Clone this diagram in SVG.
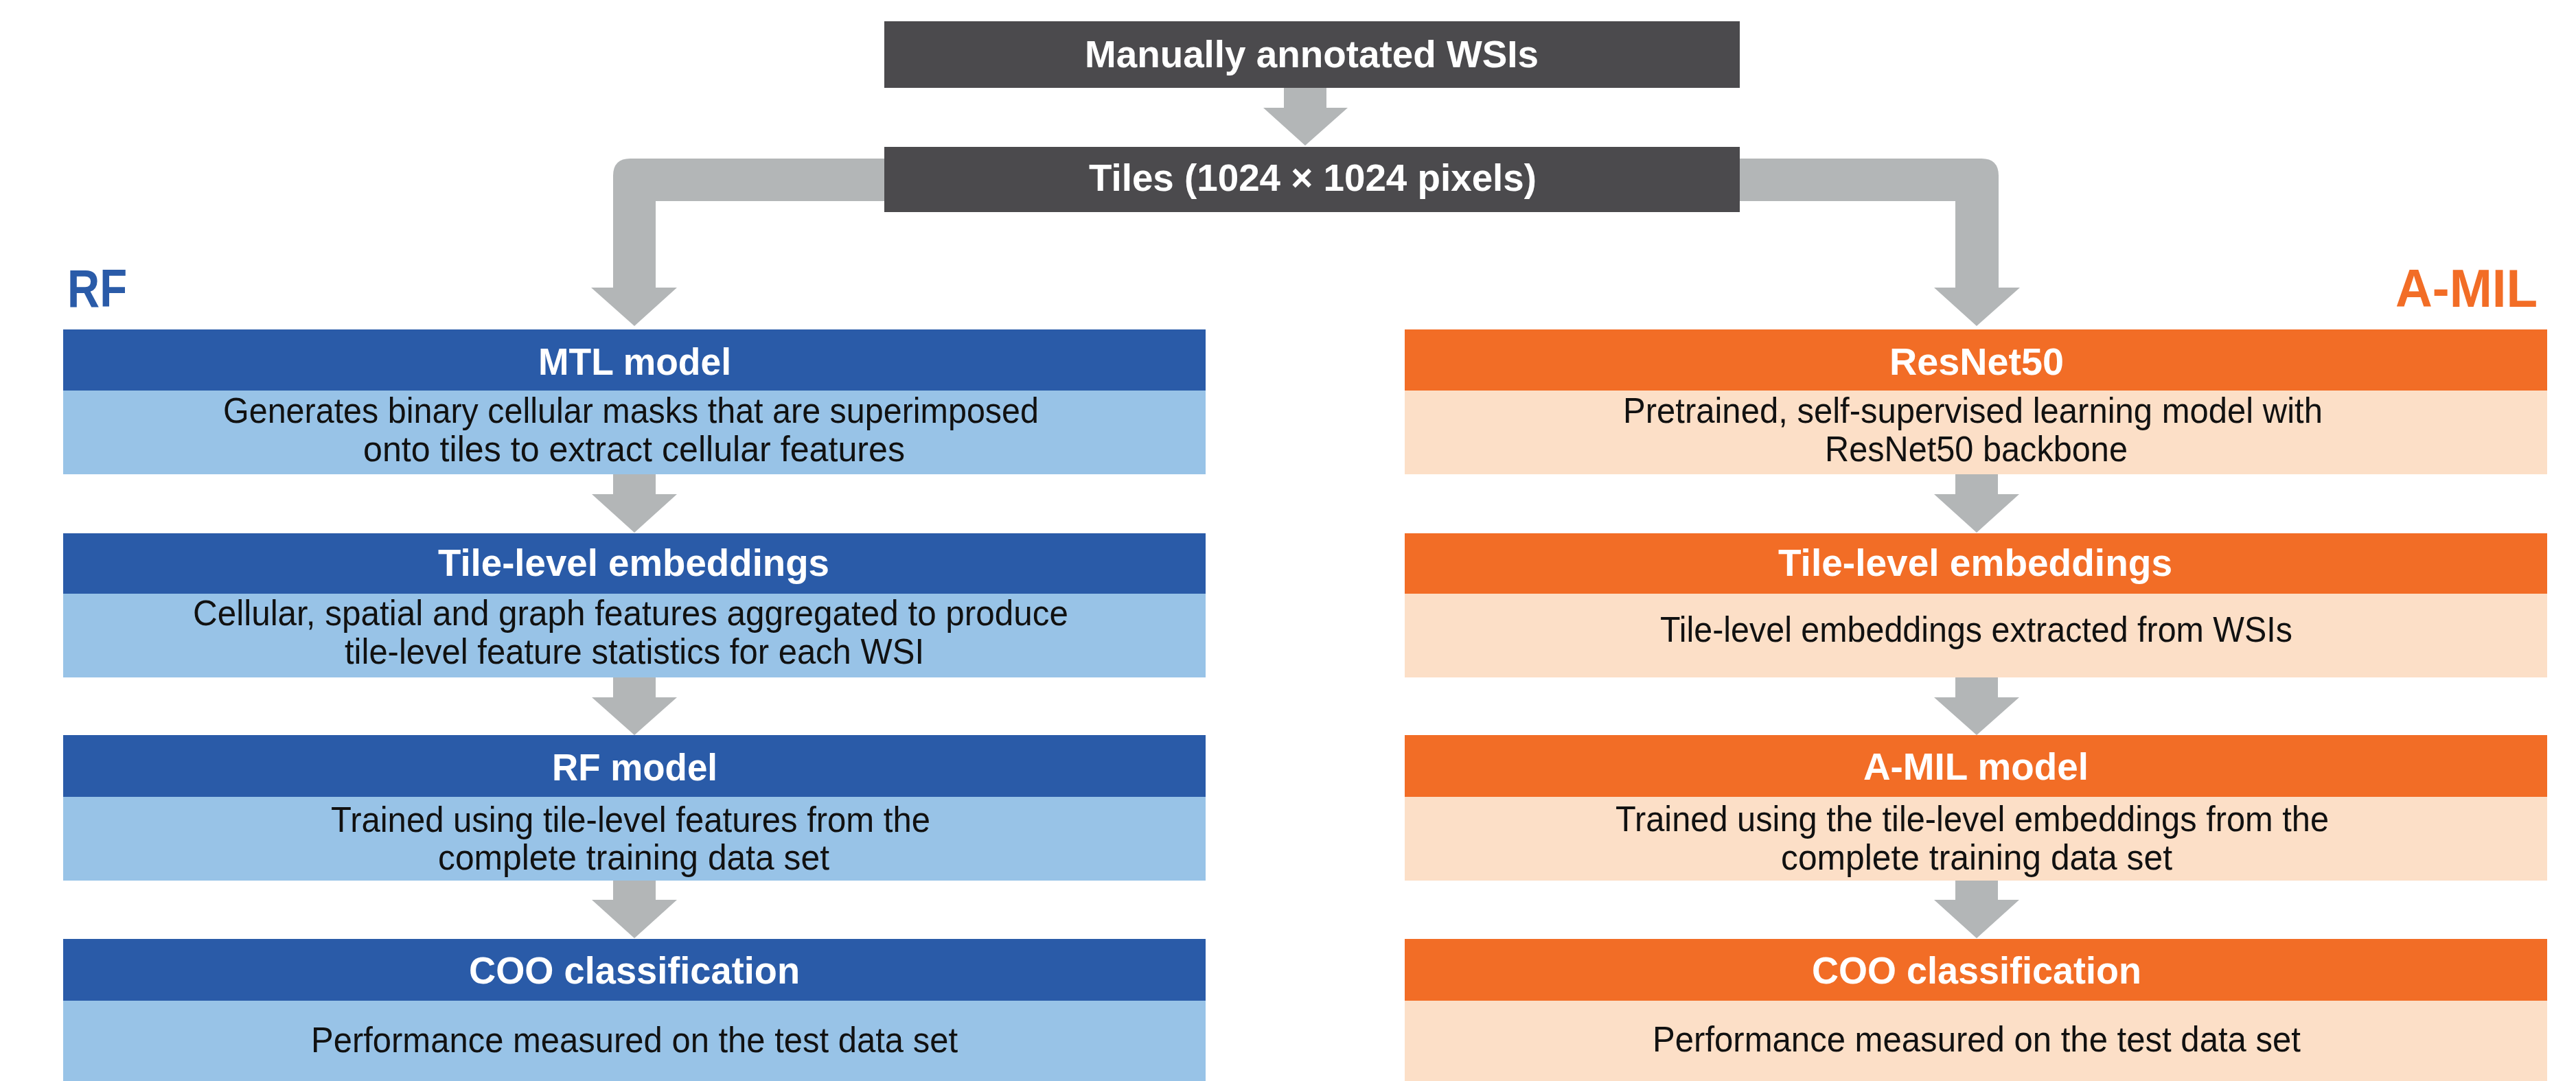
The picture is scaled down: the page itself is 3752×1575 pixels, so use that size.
<svg xmlns="http://www.w3.org/2000/svg" width="3752" height="1575" viewBox="0 0 3752 1575">
  <style>
    .bg { fill: #ffffff; }
    .dark { fill: #4b4a4d; }
    .arrow { fill: #b3b6b7; }
    .bhead { fill: #2a5ba8; }
    .bbody { fill: #98c3e7; }
    .ohead { fill: #f26d26; }
    .obody { fill: #fcdfc7; }
    text { font-family: "Liberation Sans", Arial, sans-serif; }
    .title { font-weight: bold; font-size: 56px; fill: #ffffff; }
    .top { font-weight: bold; font-size: 55px; fill: #ffffff; }
    .body { font-size: 52px; fill: #111111; }
    .lblB { font-weight: bold; font-size: 78px; fill: #2a5ba8; }
    .lblO { font-weight: bold; font-size: 78px; fill: #f26d26; }
  </style>
  <rect class="bg" x="0" y="0" width="3752" height="1575"/>

  <!-- connectors -->
  <g id="connectors">
    <!-- WSIs to tiles -->
    <path class="arrow" d="M1870 124 H1932 V157 H1963 L1901 212 L1840 157 H1870 Z"/>
    <!-- tiles branch to RF column -->
    <path class="arrow" d="M1900 231 H918 Q893 231 893 256 V419 H861 L924 475 L986 419 H955 V293 H1900 Z"/>
    <!-- tiles branch to A-MIL column -->
    <path class="arrow" d="M1900 231 H2886 Q2911 231 2911 256 V419 H2942 L2879 475 L2817 419 H2848 V293 H1900 Z"/>
    <!-- RF column steps -->
    <path class="arrow" d="M893 690 H955 V720 H986 L924 776 L862 720 H893 Z"/>
    <path class="arrow" d="M893 986 H955 V1016 H986 L924 1071 L862 1016 H893 Z"/>
    <path class="arrow" d="M893 1282 H955 V1311 H986 L924 1367 L862 1311 H893 Z"/>
    <!-- A-MIL column steps -->
    <path class="arrow" d="M2848 690 H2910 V720 H2941 L2879 776 L2817 720 H2848 Z"/>
    <path class="arrow" d="M2848 986 H2910 V1016 H2941 L2879 1071 L2817 1016 H2848 Z"/>
    <path class="arrow" d="M2848 1282 H2910 V1311 H2941 L2879 1367 L2817 1311 H2848 Z"/>
  </g>

  <!-- source nodes -->
  <g id="wsis">
    <rect class="dark" x="1288" y="31" width="1246" height="97"/>
    <text class="top" x="1580" y="98" textLength="661" lengthAdjust="spacingAndGlyphs">Manually annotated WSIs</text>
  </g>
  <g id="tiles">
    <rect class="dark" x="1288" y="214" width="1246" height="95"/>
    <text class="top" x="1586" y="278" textLength="652" lengthAdjust="spacingAndGlyphs">Tiles (1024 × 1024 pixels)</text>
  </g>

  <!-- column labels -->
  <g id="label-rf">
    <text class="lblB" x="98" y="447" textLength="87" lengthAdjust="spacingAndGlyphs">RF</text>
  </g>
  <g id="label-amil">
    <text class="lblO" x="3489" y="447" textLength="207" lengthAdjust="spacingAndGlyphs">A-MIL</text>
  </g>

  <!-- RF pipeline -->
  <g id="rf-mtl">
    <rect class="bhead" x="92" y="480" width="1664" height="89"/>
    <rect class="bbody" x="92" y="569" width="1664" height="122"/>
    <text class="title" x="784" y="546" textLength="281" lengthAdjust="spacingAndGlyphs">MTL model</text>
    <text class="body" x="325" y="616" textLength="1188" lengthAdjust="spacingAndGlyphs">Generates binary cellular masks that are superimposed</text>
    <text class="body" x="529" y="672" textLength="789" lengthAdjust="spacingAndGlyphs">onto tiles to extract cellular features</text>
  </g>
  <g id="rf-embeddings">
    <rect class="bhead" x="92" y="777" width="1664" height="88"/>
    <rect class="bbody" x="92" y="865" width="1664" height="122"/>
    <text class="title" x="638" y="839" textLength="570" lengthAdjust="spacingAndGlyphs">Tile-level embeddings</text>
    <text class="body" x="281" y="911" textLength="1275" lengthAdjust="spacingAndGlyphs">Cellular, spatial and graph features aggregated to produce</text>
    <text class="body" x="502" y="967" textLength="844" lengthAdjust="spacingAndGlyphs">tile-level feature statistics for each WSI</text>
  </g>
  <g id="rf-model">
    <rect class="bhead" x="92" y="1071" width="1664" height="90"/>
    <rect class="bbody" x="92" y="1161" width="1664" height="122"/>
    <text class="title" x="804" y="1137" textLength="241" lengthAdjust="spacingAndGlyphs">RF model</text>
    <text class="body" x="482" y="1212" textLength="873" lengthAdjust="spacingAndGlyphs">Trained using tile-level features from the</text>
    <text class="body" x="638" y="1267" textLength="570" lengthAdjust="spacingAndGlyphs">complete training data set</text>
  </g>
  <g id="rf-coo">
    <rect class="bhead" x="92" y="1368" width="1664" height="90"/>
    <rect class="bbody" x="92" y="1458" width="1664" height="117"/>
    <text class="title" x="683" y="1433" textLength="482" lengthAdjust="spacingAndGlyphs">COO classification</text>
    <text class="body" x="453" y="1533" textLength="942" lengthAdjust="spacingAndGlyphs">Performance measured on the test data set</text>
  </g>

  <!-- A-MIL pipeline -->
  <g id="amil-resnet">
    <rect class="ohead" x="2046" y="480" width="1664" height="89"/>
    <rect class="obody" x="2046" y="569" width="1664" height="122"/>
    <text class="title" x="2752" y="546" textLength="254" lengthAdjust="spacingAndGlyphs">ResNet50</text>
    <text class="body" x="2364" y="616" textLength="1019" lengthAdjust="spacingAndGlyphs">Pretrained, self-supervised learning model with</text>
    <text class="body" x="2658" y="672" textLength="441" lengthAdjust="spacingAndGlyphs">ResNet50 backbone</text>
  </g>
  <g id="amil-embeddings">
    <rect class="ohead" x="2046" y="777" width="1664" height="88"/>
    <rect class="obody" x="2046" y="865" width="1664" height="122"/>
    <text class="title" x="2590" y="839" textLength="574" lengthAdjust="spacingAndGlyphs">Tile-level embeddings</text>
    <text class="body" x="2418" y="935" textLength="921" lengthAdjust="spacingAndGlyphs">Tile-level embeddings extracted from WSIs</text>
  </g>
  <g id="amil-model">
    <rect class="ohead" x="2046" y="1071" width="1664" height="90"/>
    <rect class="obody" x="2046" y="1161" width="1664" height="122"/>
    <text class="title" x="2714" y="1136" textLength="328" lengthAdjust="spacingAndGlyphs">A-MIL model</text>
    <text class="body" x="2353" y="1211" textLength="1039" lengthAdjust="spacingAndGlyphs">Trained using the tile-level embeddings from the</text>
    <text class="body" x="2594" y="1267" textLength="570" lengthAdjust="spacingAndGlyphs">complete training data set</text>
  </g>
  <g id="amil-coo">
    <rect class="ohead" x="2046" y="1368" width="1664" height="90"/>
    <rect class="obody" x="2046" y="1458" width="1664" height="117"/>
    <text class="title" x="2639" y="1433" textLength="480" lengthAdjust="spacingAndGlyphs">COO classification</text>
    <text class="body" x="2407" y="1532" textLength="944" lengthAdjust="spacingAndGlyphs">Performance measured on the test data set</text>
  </g>
</svg>
